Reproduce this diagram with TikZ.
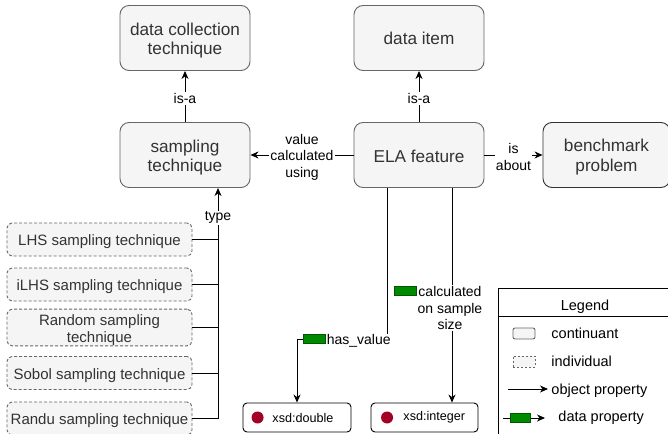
\documentclass[tikz,border=0pt]{standalone}
\usepackage{fontspec}
\setmainfont{Liberation Sans}
\usetikzlibrary{positioning,arrows.meta}
\definecolor{clsfill}{HTML}{F5F5F5}
\definecolor{clsline}{HTML}{666666}
\definecolor{clstext}{HTML}{333333}
\definecolor{dpfill}{HTML}{008A00}
\definecolor{dpline}{HTML}{005700}
\definecolor{dotred}{HTML}{A20025}
\newcommand\lup[1]{\rule{0pt}{#1}}
\begin{document}
\begin{tikzpicture}[>={Stealth[length=8pt,width=7pt,inset=2.5pt]},x=1pt,y=-1pt,line width=0.9pt,
    cls/.style={draw=clsline,fill=clsfill,text=clstext,rounded corners=9pt,minimum width=130pt,minimum height=65pt,align=center,font=\fontsize{17.2}{19.5}\selectfont},
    ind/.style={draw=clsline,fill=clsfill,text=clstext,dash pattern=on 3pt off 2pt,rounded corners=5pt,minimum width=185pt,minimum height=33pt,inner sep=0pt,align=center,font=\fontsize{15}{17}\selectfont},
    lbl/.style={fill=white,inner sep=1pt,yshift=-2pt,align=center,font=\fontsize{14}{16.5}\selectfont},
    dprop/.style={draw=dpline,fill=dpfill,line width=0.6pt,minimum width=22pt,minimum height=9pt,inner sep=0pt},
    xsd/.style={draw,fill=white,rounded corners=4pt,minimum height=29pt},
    xsdtxt/.style={inner sep=0pt,font=\fontsize{12.6}{15}\selectfont},
    rdot/.style={circle,fill=dotred,inner sep=0pt,minimum size=12pt},
    lgd/.style={inner sep=0pt,anchor=west,text height=10.5pt,text depth=3pt,font=\fontsize{14.5}{17}\selectfont}]
\useasboundingbox(0,0)rectangle(668,433);
\node[cls](dct)at(185,38){\lup{17.5pt}data collection\\technique};
\node[cls](st)at(185,155){\lup{18pt}sampling\\technique};
\node[cls](di)at(419,38){data item};
\node[cls](ela)at(419,155){\lup{15.5pt}ELA feature};
\node[cls,draw=black!80,minimum width=127pt](bp)at(606.5,155){\lup{16.5pt}benchmark\\problem};
\node[ind](i1)at(99.5,239.5){\lup{15.5pt}LHS sampling technique};
\node[ind](i2)at(99.5,284.5){\lup{15.5pt}iLHS sampling technique};
\node[ind,minimum height=31pt](i3)at(99.5,327.5){\lup{16.5pt}Random sampling\\technique};
\node[ind](i4)at(99.5,373){\lup{15.5pt}Sobol sampling technique};
\node[ind](i5)at(99.5,418.5){\lup{15.5pt}Randu sampling technique};
\node[xsd,minimum width=108pt](xd)at(297,417.5){};
\node[xsd,minimum width=107pt](xi)at(424.5,417.5){};
\node[rdot](xdd)at([xshift=15pt]xd.west){};
\node[rdot](xid)at([xshift=16.5pt]xi.west){};
\node[xsdtxt,right=8pt of xdd](xdt){xsd:double};
\node[xsdtxt,right=9.5pt of xid](xit){xsd:integer};
\draw[->](st)--node[lbl]{is-a}(dct);
\draw[->](ela)--node[lbl]{is-a}(di);
\draw[->](ela)--node[lbl]{value\\calculated\\using}(st);
\draw[->](ela)--node[lbl]{is\\about}(bp);
\coordinate(ty)at(218,188);
\draw[->](i5.east)-|node[lbl,pos=0.94]{type}(ty);
\foreach \n in {i1,i2,i3,i4}\draw(\n.east)--(\n.east-|ty);
\coordinate(hv)at(297,339);
\draw[->]([xshift=-32pt]ela.south)|-(hv)--(xd);
\node[dprop](g1)at(314,339){};
\node[lbl,right=0pt of g1](hvl){has\_value};
\draw[->]([xshift=33pt]ela.south)--([xshift=27.5pt]xi.north);
\node[lbl](csl)at(450,306){calculated\\on sample\\size};
\node[dprop](g2)at(405,291){};
\draw(498,288)rectangle(672,437);
\draw(498,316)--(672,316);
\node[font=\fontsize{14.5}{17}\selectfont](lt)at(585,307){Legend};
\node[draw=clsline,fill=clsfill,rounded corners=2pt,minimum width=22pt,minimum height=11pt,inner sep=0pt](lc)at(524,333.5){};
\node[lgd](lct)at(551,335){continuant};
\node[draw=clsline,fill=clsfill,dash pattern=on 2pt off 2pt,minimum width=22pt,minimum height=11pt,inner sep=0pt](li)at(524,361.5){};
\node[lgd](lit)at(551,363){individual};
\coordinate(oa)at(508,389);
\coordinate(ob)at(548,389);
\draw[->](oa)--(ob);
\node[lgd](lot)at(551,390.5){object property};
\coordinate(da)at(503,418);
\coordinate(db)at(545,418);
\draw[->](da)--(db);
\node[dprop,minimum width=20pt](g3)at(520,417.5){};
\node[lgd](ldt)at(558,418){data property};
\end{tikzpicture}
\end{document}
